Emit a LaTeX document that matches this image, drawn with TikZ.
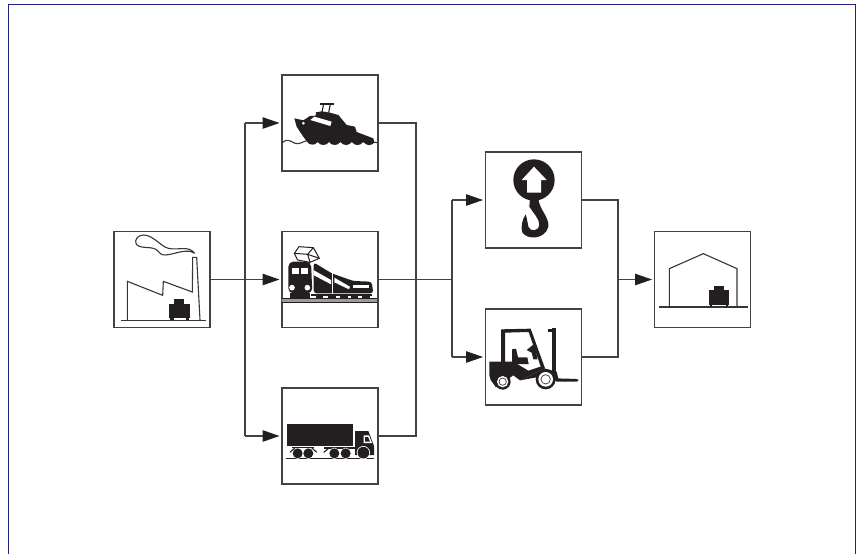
\documentclass[tikz,border=0pt]{standalone}
\usetikzlibrary{arrows.meta}
\definecolor{frameblue}{RGB}{32,36,128}
\definecolor{ink}{RGB}{35,31,32}
\tikzset{
  iconbox/.style={draw=ink!85!white,line width=1.3pt,minimum width=96pt,minimum height=96pt,inner sep=0pt,outer sep=0pt},
  link/.style={draw=ink!85!white,line width=1.1pt},
  flow/.style={link,-{Triangle[length=17pt,width=11.5pt,color=ink]},shorten >=2.5pt},
  thin ink/.style={draw=ink!90!white,line width=1.1pt,fill=none,line join=miter}
}
\begin{document}
\begin{tikzpicture}[x=1pt,y=-1pt]
\useasboundingbox (0,0) rectangle (856,554);
\fill[white] (0,0) rectangle (856,554);
\draw[frameblue,line width=1pt] (8.5,554) -- (8.5,4.5) -- (855.5,4.5) -- (855.5,554);

% boxes
\node[iconbox] (factory) at (162,279.5) {};
\node[iconbox] (ship) at (330,123) {};
\node[iconbox] (train) at (330,279.5) {};
\node[iconbox] (truck) at (330,436) {};
\node[iconbox] (hook) at (533.5,200) {};
\node[iconbox] (fork) at (533.5,357) {};
\node[iconbox] (store) at (702.5,279.5) {};

% junctions
\coordinate (a1) at (245,123);
\coordinate (a3) at (245,436);
\coordinate (b1) at (416,123);
\coordinate (b3) at (416,436);
\coordinate (c) at (452,279.5);
\coordinate (c1) at (452,200);
\coordinate (c2) at (452,357);
\coordinate (d) at (618,279.5);
\coordinate (d1) at (618,200);
\coordinate (d2) at (618,357);

% connectors
\draw[flow] (factory.east) -- (train.west);
\draw[link] (a1) -- (a3);
\draw[flow] (a1) -- (ship.west);
\draw[flow] (a3) -- (truck.west);
\draw[link] (ship.east) -- (b1) -- (b3) -- (truck.east);
\draw[link] (train.east) -- (c);
\draw[link] (c1) -- (c2);
\draw[flow] (c1) -- (hook.west);
\draw[flow] (c2) -- (fork.west);
\draw[link] (hook.east) -- (d1) -- (d2) -- (fork.east);
\draw[flow] (d) -- (store.west);

% factory
\begin{scope}[shift={(100,220)},scale=1/3]
\draw[thin ink] (62,301) -- (318,301);
\draw[thin ink] (82,300) -- (82,184) -- (188,226) -- (190,184) -- (277,216) -- (278,112) -- (290,112) -- (300,300);
\draw[thin ink] (284,100) .. controls (265,75) and (235,92) .. (205,85)
  .. controls (180,78) and (160,45) .. (130,45)
  .. controls (112,46) and (104,60) .. (108,70)
  .. controls (115,88) and (150,78) .. (168,88)
  .. controls (182,98) and (178,108) .. (205,104)
  .. controls (230,100) and (262,85) .. (284,100);
\fill[ink] (207,253) rectangle (271,294);
\fill[ink] (222,238) rectangle (252,253);
\fill[ink] (211,294) rectangle (221,299);
\fill[ink] (257,294) rectangle (267,299);
\end{scope}

% ship
\begin{scope}[shift={(275,70)},scale=1/3]
\draw[thin ink] (22,218) .. controls (35,205) and (45,212) .. (60,220) .. controls (72,224) and (85,215) .. (95,212);
\draw[thin ink] (290,215) -- (306,218);
\fill[ink] (58,145) -- (85,151) -- (105,138) -- (122,137) -- (123,127) -- (140,124) -- (165,128) -- (190,135) -- (215,165) -- (240,170) -- (245,186) -- (295,205) -- (298,218)
  .. controls (288,228) and (275,228) .. (265,216)
  .. controls (255,228) and (240,228) .. (230,216)
  .. controls (222,228) and (205,228) .. (196,216)
  .. controls (188,228) and (170,228) .. (162,216)
  .. controls (154,228) and (136,228) .. (128,216)
  .. controls (120,228) and (102,226) .. (95,214)
  -- (78,190) -- (65,170) -- cycle;
\fill[white] (106,150) -- (118,140) -- (170,155) -- (166,168) -- cycle;
\fill[white] (85,160) circle (4.5);
\draw[ink,line width=1.1pt] (136,102) -- (176,102);
\draw[ink,line width=1.1pt] (146,102) -- (141,126);
\draw[ink,line width=1.1pt] (166,102) -- (161,128);
\end{scope}

% train
\begin{scope}[shift={(275,225)},scale=1/3]
\fill[ink!45!white] (22,222) rectangle (306,230);
\draw[ink,line width=.8pt] (22,221) -- (306,221);
\draw[ink,line width=.8pt] (22,231) -- (306,231);
\fill[ink,rounded corners=5pt] (40,110) -- (108,110) -- (112,205) -- (40,205) -- cycle;
\fill[ink] (46,205) rectangle (104,219);
\fill[white] (52,128) rectangle (73,148);
\fill[white] (78,128) rectangle (98,148);
\fill[white] (51,188) circle (8.5);
\fill[white] (97,188) circle (8.5);
\fill[ink,rounded corners=3pt] (116,112) -- (170,145) -- (235,168) -- (290,170) -- (295,205) -- (116,205) -- cycle;
\fill[ink] (108,207) rectangle (292,214);
\foreach \q in {122,160,196,228,262} \fill[ink] (\q,212) rectangle (\q+22,219);
\fill[white] (115,135) -- (168,165) -- (168,178) -- (115,150) -- cycle;
\fill[white] (178,158) -- (225,185) -- (222,193) -- (178,172) -- cycle;
\fill[white] (233,180) rectangle (283,190);
\fill[white] (171.5,145) rectangle (174.5,206);
\filldraw[fill=white,draw=ink,line width=1pt,line join=round] (58,85) -- (72,65) -- (115,68) -- (133,100) -- (105,112) -- (68,105) -- cycle;
\draw[ink,line width=1pt] (58,85) -- (98,88) -- (133,100) (98,88) -- (115,68) (98,88) -- (105,112);
\end{scope}

% truck
\begin{scope}[shift={(275,380)},scale=1/3]
\draw[ink,line width=1.2pt] (32,236) -- (298,236);
\fill[ink] (37,133) rectangle (233,197);
\fill[ink] (148,200) rectangle (245,208);
\fill[ink] (240,153) -- (280,153) -- (297,198) -- (297,225) -- (240,225) -- cycle;
\fill[white] (266,166) -- (282,166) -- (291,189) -- (266,189) -- cycle;
\fill[ink] (270,171) -- (279,171) -- (285,185) -- (270,185) -- cycle;
\foreach \q in {68,100,178,212} {
  \fill[white] (\q,220) circle (17);
  \fill[ink] (\q,220) circle (15);
}
\fill[white] (265,218) circle (20);
\fill[ink] (265,218) circle (17.5);
\draw[ink,line width=1.1pt] (45,217) -- (60,203);
\draw[ink,line width=1.1pt] (125,217) -- (110,203);
\draw[ink,line width=1.1pt] (146,217) -- (160,206);
\fill[ink] (50,200) rectangle (118,203);
\end{scope}

% hook
\begin{scope}[shift={(480,145)},scale=1/3]
\fill[ink] (162,105) circle (62);
\fill[white] (162,65) -- (200,105) -- (183,105) -- (183,143) -- (141,143) -- (141,105) -- (125,105) -- cycle;
\fill[ink] (150,160) -- (148,185) .. controls (160,205) and (178,220) .. (178,240)
  .. controls (178,258) and (150,262) .. (145,245)
  .. controls (143,235) and (142,225) .. (137,208)
  .. controls (125,225) and (122,250) .. (127,262)
  .. controls (140,285) and (195,285) .. (205,245)
  .. controls (208,215) and (178,195) .. (175,160) -- cycle;
\end{scope}

% forklift
\begin{scope}[shift={(480,300)},scale=1/3]
\fill[ink] (63,88) -- (152,86) -- (195,205) -- (184,205) -- (146,96) -- (75,98) -- (75,190) -- (63,190) -- cycle;
\fill[ink] (216,84) rectangle (229,235);
\fill[ink] (205,88) rectangle (218,97);
\fill[ink] (96,148) -- (108,146) -- (114,172) -- (142,172) -- (146,192) -- (96,192) -- cycle;
\fill[ink] (140,150) -- (165,130) -- (172,178) -- (160,178) -- (155,158) -- cycle;
\fill[ink] (28,185) -- (100,185) -- (145,212) -- (190,197) -- (193,205) -- (120,241) -- (100,226) -- (48,262) -- (32,240) -- (28,225) -- cycle;
\fill[ink] (120,241) -- (193,205) -- (230,215) -- (236,240) -- (170,232) -- cycle;
\fill[ink,rounded corners=2pt] (225,235) -- (295,237) -- (295,245) -- (225,245) -- cycle;
\fill[ink] (68,245) circle (24);
\fill[white] (68,245) circle (17);
\draw[ink!80!white,line width=.8pt] (68,245) circle (11);
\fill[ink] (197,238) circle (30);
\fill[white] (197,238) circle (22);
\draw[ink!80!white,line width=.8pt] (197,238) circle (14);
\end{scope}

% warehouse
\begin{scope}[shift={(610,220)},scale=1/3]
\draw[thin ink] (148,261) -- (413,261);
\draw[thin ink] (178,260) -- (178,146) -- (280,101) -- (381,146) -- (381,260);
\fill[ink] (298,210) rectangle (358,255);
\fill[ink] (313,198) rectangle (343,210);
\fill[ink] (301,255) rectangle (307,260);
\fill[ink] (349,255) rectangle (355,260);
\end{scope}
\end{tikzpicture}
\end{document}
